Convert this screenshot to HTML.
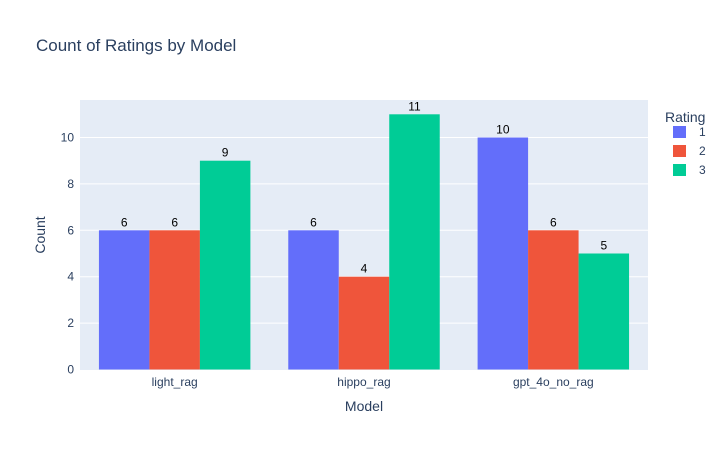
<!DOCTYPE html>
<html><head><meta charset="utf-8"><style>
body{margin:0;background:#fff;font-family:"Liberation Sans",Arial,sans-serif;}
svg text{font-family:"Liberation Sans",Arial,sans-serif;}
</style></head><body>
<svg id="chart" width="728" height="450">
<rect x="0" y="0" width="728" height="450" fill="#fff"/>
<text x="36" y="51" font-size="17" fill="#2a3f5f">Count of Ratings by Model</text>
<rect x="80" y="100" width="568" height="270" fill="#e5ecf6"/>
<g id="grid"></g>
<g id="bars"></g>
<g id="xt"></g>
<text x="364" y="411" font-size="14" fill="#2a3f5f" text-anchor="middle">Model</text>
<text transform="translate(45,235) rotate(-90)" font-size="14" fill="#2a3f5f" text-anchor="middle">Count</text>
<text x="665" y="122" font-size="14" fill="#2a3f5f">Rating</text>
<g id="legend"></g>
</svg>
<script>
const categories=["light_rag","hippo_rag","gpt_4o_no_rag"];
const seriesNames=["1","2","3"];
const rating1=[6,6,10];
const rating2=[6,4,6];
const rating3=[9,11,5];
const yTicks=[0,2,4,6,8,10];
const colors=["#636efa","#ef553b","#00cc96"];
const series=[rating1,rating2,rating3];
const NS="http://www.w3.org/2000/svg";
const X0=80,W=568,Y0=369.5,SC=23.2;
const y=v=>Y0-v*SC;
const bandW=W/categories.length;
const xc=i=>X0+bandW*(i+0.5);
function mk(tag,attrs,parent){const e=document.createElementNS(NS,tag);for(const k in attrs)e.setAttribute(k,attrs[k]);parent.appendChild(e);return e;}
const grid=document.getElementById('grid');
yTicks.forEach(t=>{
  if(t>0){const l=mk('line',{x1:X0,x2:X0+W,y1:y(t),y2:y(t),stroke:'#fff','stroke-width':1},grid);
  
  }
  const tx=mk('text',{x:X0-6,y:y(t)+4,'font-size':12,fill:'#2a3f5f','text-anchor':'end'},grid);
  tx.textContent=t;
  
  
});
const bars=document.getElementById('bars');
const groupW=bandW*0.8,bw=groupW/series.length;
series.forEach((s,si)=>{
  s.forEach((v,ci)=>{
    const x=xc(ci)-groupW/2+si*bw;
    const r=mk('rect',{x:x,y:y(v),width:bw,height:Y0-y(v),fill:colors[si]},bars);
    
    
    const t=mk('text',{x:x+bw/2,y:y(v)-4,'font-size':12,fill:'#000','text-anchor':'middle'},bars);
    t.textContent=v;
    
    
  });
});
const xt=document.getElementById('xt');
categories.forEach((c,i)=>{
  const t=mk('text',{x:xc(i),y:386,'font-size':12,fill:'#2a3f5f','text-anchor':'middle'},xt);
  t.textContent=c;
  
  
});
const lg=document.getElementById('legend');
seriesNames.forEach((n,i)=>{
  const yy=132+i*19;
  const g=mk('g',{},lg);
  
  
  mk('rect',{x:673,y:yy-6,width:13,height:12,fill:colors[i]},g);
  const t=mk('text',{x:699,y:yy+4,'font-size':12,fill:'#2a3f5f'},g);
  t.textContent=n;
});
</script>
</body></html>
